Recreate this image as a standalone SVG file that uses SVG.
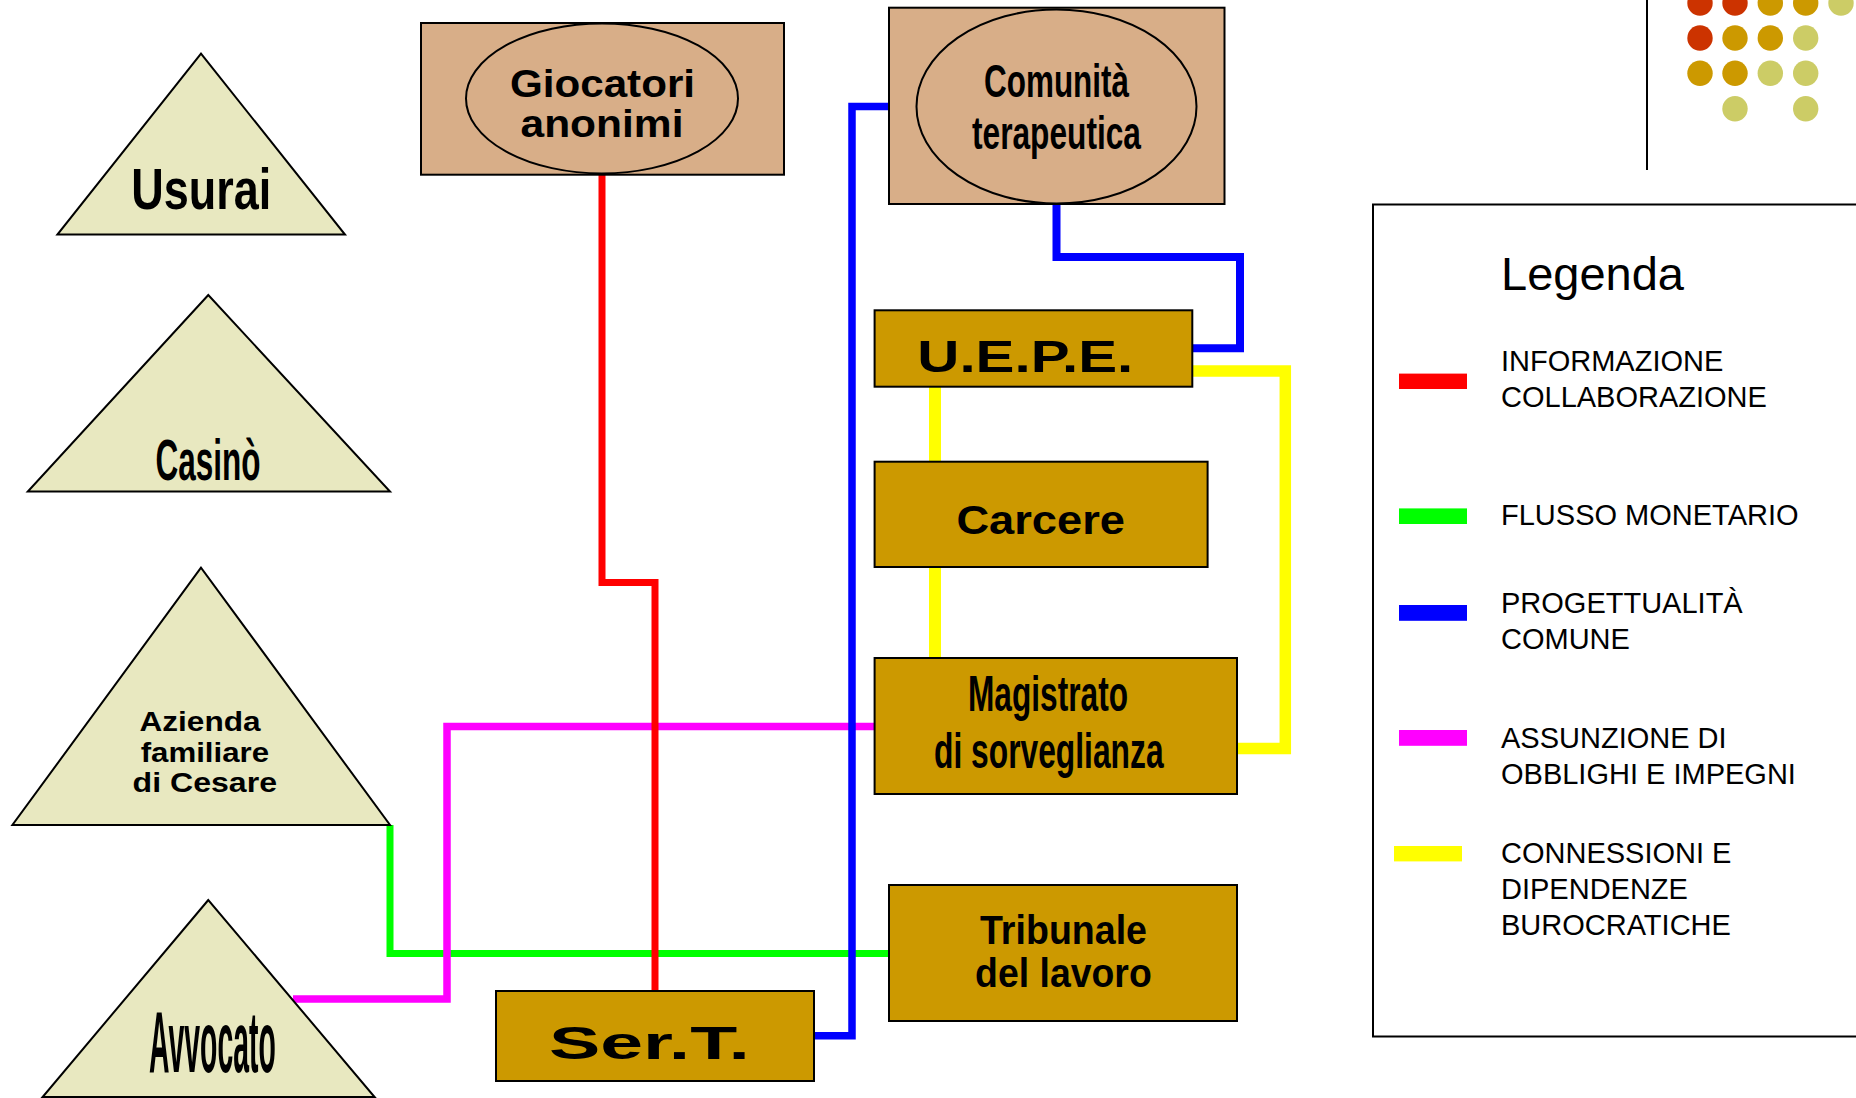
<svg xmlns="http://www.w3.org/2000/svg" width="1856" height="1098" viewBox="0 0 1856 1098">
<style>
.tri{fill:#E8E8C0;stroke:#000;stroke-width:2}
.tan{fill:#D8AE88;stroke:#000;stroke-width:2}
.gold{fill:#CC9900;stroke:#000;stroke-width:2}
.lbl{font-family:"Liberation Sans",Arial,sans-serif;font-weight:bold;fill:#000;text-anchor:middle}
.leg{font-family:"Liberation Sans",Arial,sans-serif;font-size:29px;fill:#000}
.c{fill:none;stroke-linejoin:miter;stroke-linecap:butt}
.r{fill:#CC3300}.g{fill:#CC9900}.k{fill:#CCCC66}
</style>
<rect width="1856" height="1098" fill="#fff"/>
<g id="decor">
<line x1="1647" y1="0" x2="1647" y2="170" stroke="#000" stroke-width="2"/>
<circle class="r" cx="1700" cy="3" r="12.7"/><circle class="r" cx="1735" cy="3" r="12.7"/><circle class="g" cx="1770.3" cy="3" r="12.7"/><circle class="g" cx="1805.7" cy="3" r="12.7"/><circle class="k" cx="1841" cy="3" r="12.7"/>
<circle class="r" cx="1700" cy="38" r="12.7"/><circle class="g" cx="1735" cy="38" r="12.7"/><circle class="g" cx="1770.3" cy="38" r="12.7"/><circle class="k" cx="1805.7" cy="38" r="12.7"/>
<circle class="g" cx="1700" cy="73.3" r="12.7"/><circle class="g" cx="1735" cy="73.3" r="12.7"/><circle class="k" cx="1770.3" cy="73.3" r="12.7"/><circle class="k" cx="1805.7" cy="73.3" r="12.7"/>
<circle class="k" cx="1735" cy="108.7" r="12.7"/><circle class="k" cx="1805.7" cy="108.7" r="12.7"/>
</g>
<g id="connectors">
<path class="c" d="M390 825 V953.4 H889" stroke="#00FF00" stroke-width="7"/>
<path class="c" d="M874.6 726.5 H447 V999 H293" stroke="#FF00FF" stroke-width="7.5"/>
<path class="c" d="M889 106.4 H852 V1035.7 H814" stroke="#0000FF" stroke-width="7.5"/>
<path class="c" d="M1056.5 204 V257 H1240 V348.3 H1192" stroke="#0000FF" stroke-width="8"/>
<path class="c" d="M602 175 V582.6 H655 V991" stroke="#FF0000" stroke-width="7"/>
<path class="c" d="M1192 371 H1285.3 V748.6 H1237" stroke="#FFFF00" stroke-width="11.5"/>
<path class="c" d="M935 386.7 V461.7" stroke="#FFFF00" stroke-width="12"/>
<path class="c" d="M935 567 V658" stroke="#FFFF00" stroke-width="12"/>
</g>
<g id="usurai">
<polygon class="tri" points="201,53.6 57.4,234.6 345,234.6"/>
<text class="lbl" x="201.2" y="209" font-size="58" textLength="140" lengthAdjust="spacingAndGlyphs">Usurai</text>
</g>
<g id="casino">
<polygon class="tri" points="208.3,295 27.8,491.6 390,491.6"/>
<text class="lbl" x="208" y="479.7" font-size="57" textLength="105" lengthAdjust="spacingAndGlyphs">Casinò</text>
</g>
<g id="azienda">
<polygon class="tri" points="201,567.6 12.4,825 390,825"/>
<text class="lbl" x="200" y="731" font-size="28" textLength="121" lengthAdjust="spacingAndGlyphs">Azienda</text>
<text class="lbl" x="204.9" y="761.5" font-size="28" textLength="128.4" lengthAdjust="spacingAndGlyphs">familiare</text>
<text class="lbl" x="204.8" y="792.3" font-size="28" textLength="144.4" lengthAdjust="spacingAndGlyphs">di Cesare</text>
</g>
<g id="avvocato">
<polygon class="tri" points="208.3,900 42.6,1097 374.6,1097"/>
<text class="lbl" x="212.4" y="1071.8" font-size="88" textLength="126.7" lengthAdjust="spacingAndGlyphs">Avvocato</text>
</g>
<g id="giocatori">
<rect class="tan" x="421" y="23" width="363" height="151.7"/>
<ellipse class="tan" cx="602" cy="98.4" rx="136" ry="75"/>
<text class="lbl" x="602.5" y="97" font-size="39" textLength="185" lengthAdjust="spacingAndGlyphs">Giocatori</text>
<text class="lbl" x="602" y="136.6" font-size="39" textLength="163" lengthAdjust="spacingAndGlyphs">anonimi</text>
</g>
<g id="comunita">
<rect class="tan" x="889" y="7.7" width="335.5" height="196.3"/>
<ellipse class="tan" cx="1056.5" cy="106.5" rx="140" ry="97"/>
<text class="lbl" x="1056.5" y="97.3" font-size="47" textLength="145" lengthAdjust="spacingAndGlyphs">Comunità</text>
<text class="lbl" x="1056.5" y="148.8" font-size="47" textLength="169" lengthAdjust="spacingAndGlyphs">terapeutica</text>
</g>
<g id="uepe">
<rect class="gold" x="874.6" y="310.3" width="317.7" height="76.4"/>
<text class="lbl" x="1025.3" y="371.7" font-size="45" textLength="216" lengthAdjust="spacingAndGlyphs">U.E.P.E.</text>
</g>
<g id="carcere">
<rect class="gold" x="874.6" y="461.7" width="333" height="105.3"/>
<text class="lbl" x="1040.7" y="534" font-size="40" textLength="168.6" lengthAdjust="spacingAndGlyphs">Carcere</text>
</g>
<g id="magistrato">
<rect class="gold" x="874.6" y="658" width="362.4" height="136"/>
<text class="lbl" x="1048" y="710.8" font-size="50" textLength="160" lengthAdjust="spacingAndGlyphs">Magistrato</text>
<text class="lbl" x="1048.8" y="767.8" font-size="50" textLength="229.5" lengthAdjust="spacingAndGlyphs">di sorveglianza</text>
</g>
<g id="tribunale">
<rect class="gold" x="889" y="885" width="348" height="136"/>
<text class="lbl" x="1063.5" y="944" font-size="41" textLength="167" lengthAdjust="spacingAndGlyphs">Tribunale</text>
<text class="lbl" x="1063.4" y="986.7" font-size="41" textLength="176.7" lengthAdjust="spacingAndGlyphs">del lavoro</text>
</g>
<g id="sert">
<rect class="gold" x="496" y="991" width="318" height="90"/>
<text class="lbl" x="649.5" y="1058.5" font-size="47" textLength="201" lengthAdjust="spacingAndGlyphs">Ser.T.</text>
</g>
<g id="legenda">
<rect x="1373" y="204.5" width="500" height="832" fill="none" stroke="#000" stroke-width="2"/>
<text x="1501" y="290" font-family="Liberation Sans,Arial,sans-serif" font-size="45.5" textLength="183" lengthAdjust="spacingAndGlyphs">Legenda</text>
<rect x="1399" y="373.6" width="68" height="15.4" fill="#FF0000"/>
<text class="leg" x="1501" y="371">INFORMAZIONE</text>
<text class="leg" x="1501" y="407">COLLABORAZIONE</text>
<rect x="1399" y="508.4" width="68" height="15.6" fill="#00FF00"/>
<text class="leg" x="1501" y="525">FLUSSO MONETARIO</text>
<rect x="1399" y="605" width="68" height="15.8" fill="#0000FF"/>
<text class="leg" x="1501" y="612.7">PROGETTUALITÀ</text>
<text class="leg" x="1501" y="649">COMUNE</text>
<rect x="1399" y="730" width="68" height="15.8" fill="#FF00FF"/>
<text class="leg" x="1501" y="747.9">ASSUNZIONE DI</text>
<text class="leg" x="1501" y="783.6">OBBLIGHI E IMPEGNI</text>
<rect x="1394" y="846" width="68" height="15.4" fill="#FFFF00"/>
<text class="leg" x="1501" y="863.4">CONNESSIONI E</text>
<text class="leg" x="1501" y="899">DIPENDENZE</text>
<text class="leg" x="1501" y="934.8">BUROCRATICHE</text>
</g>
</svg>
